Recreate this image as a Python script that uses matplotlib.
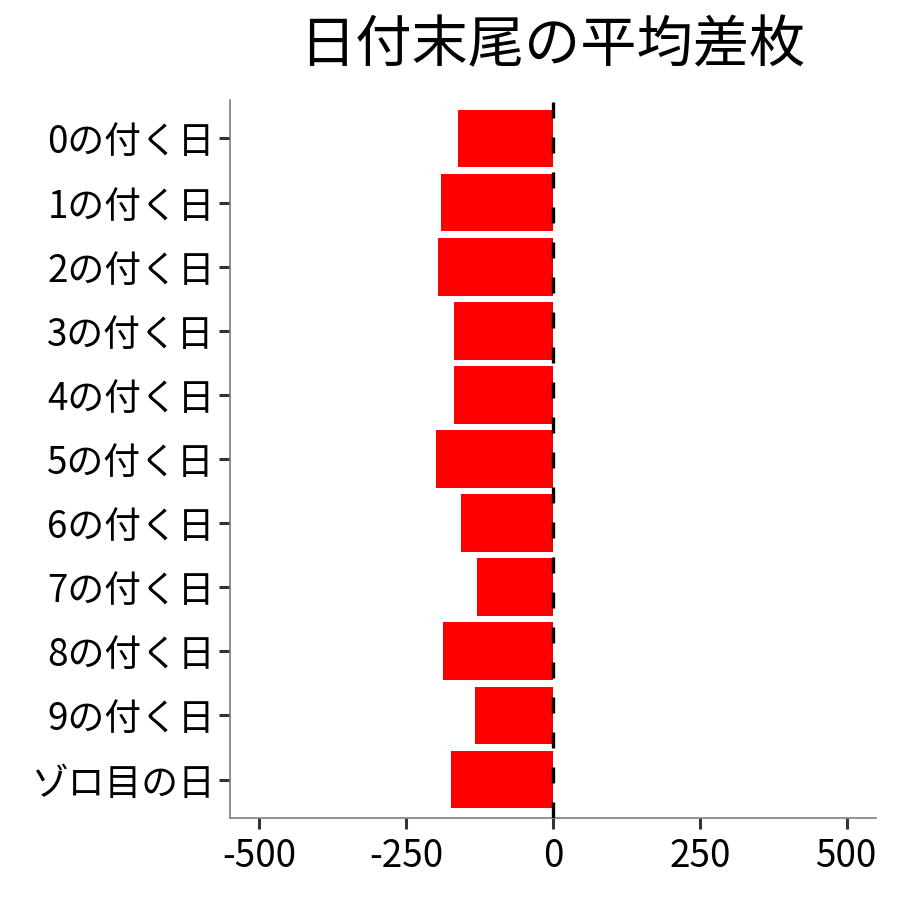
import matplotlib
matplotlib.use("Agg")
import matplotlib.pyplot as plt

plt.rcParams['font.family'] = ['Noto Sans CJK JP', 'DejaVu Sans']

# days grouped by last digit of the date, top to bottom
labels = ['0の付く日', '1の付く日', '2の付く日', '3の付く日', '4の付く日',
          '5の付く日', '6の付く日', '7の付く日', '8の付く日', '9の付く日', 'ゾロ目の日']
avg_diff = [-162, -190, -195, -169, -168, -199, -157, -130, -188, -133, -174]
xticks = [-500, -250, 0, 250, 500]

fig = plt.figure(figsize=(9, 9), dpi=100)
ax = fig.add_axes([230/900, 82/900, 646/900, 718/900])

n = len(labels)
ypos = list(range(n, 0, -1))
ax.barh(ypos, avg_diff, height=0.9, color='#ff0000', zorder=2)
ax.plot([0, 0], [0.4, n + 0.6], color='black', lw=2.4,
        linestyle=(0, (4.8, 5.7)), zorder=3)

ax.set_xlim(-550, 550)
ax.set_ylim(0.4, n + 0.6)
ax.set_xticks(xticks)
ax.set_xticklabels([str(v) for v in xticks])
ax.set_yticks(ypos)
ax.set_yticklabels(labels)

for s in ['top', 'right']:
    ax.spines[s].set_visible(False)
for s in ['left', 'bottom']:
    ax.spines[s].set_color('#7f7f7f')
    ax.spines[s].set_linewidth(1.2)
ax.tick_params(axis='both', length=8, width=2.2, color='#333333',
               labelsize=26.5, labelcolor='black', pad=3)
ax.tick_params(axis='x', pad=6)

fig.text(552/900, 1 - 46/900, '日付末尾の平均差枚', fontsize=40.5,
         ha='center', va='center')

fig.savefig('out.png', dpi=100)
